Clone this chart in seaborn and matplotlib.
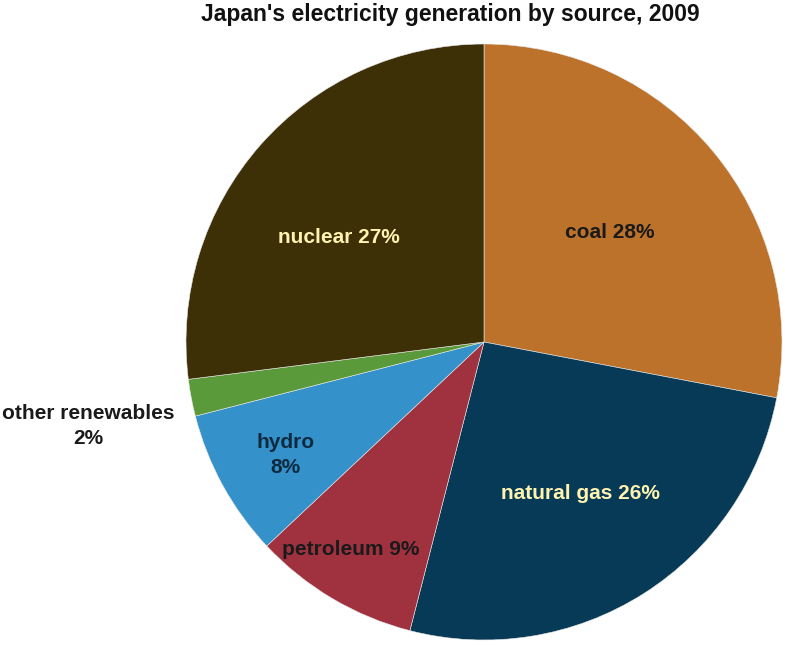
import matplotlib
matplotlib.use("Agg")
import matplotlib.pyplot as plt
import seaborn as sns

sns.set_theme(style="white")
plt.rcParams['font.family'] = ['Liberation Sans', 'DejaVu Sans']

sources = ["coal", "natural gas", "petroleum", "hydro", "other renewables", "nuclear"]
shares = [28, 26, 9, 8, 2, 27]
labels = ["coal 28%", "natural gas 26%", "petroleum 9%", "hydro\n8%", "other renewables\n2%", "nuclear 27%"]

colors = ["#BD722C", "#063A56", "#A0313F", "#3591C9", "#5A9A3A", "#3E3006"]
text_colors = ["#1a1a1a", "#FFF3B0", "#1a1a1a", "#0d2a40", "#1a1a1a", "#FFF3B0"]
label_pos = [(0.423, 0.369), (0.322, -0.51), (-0.446, -0.695), (-0.665, -0.379), (-1.329, -0.282), (-0.487, 0.349)]

W, H = 785, 645
fig = plt.figure(figsize=(W / 100, H / 100), dpi=100)
cx, cy, r = 484, 342, 298
ax = fig.add_axes([(cx - r) / W, (H - cy - r) / H, 2 * r / W, 2 * r / H])
ax.pie(shares, colors=colors, startangle=90, counterclock=False,
       wedgeprops=dict(linewidth=0.4, edgecolor="#e8e8e8"), radius=1)
ax.set_xlim(-1, 1)
ax.set_ylim(-1, 1)
ax.set_aspect("equal")
ax.axis("off")

for lab, (x, y), tc in zip(labels, label_pos, text_colors):
    ax.text(x, y, lab, ha="center", va="center", fontsize=15, fontweight="bold",
            color=tc, linespacing=1.35, clip_on=False)

fig.text(450 / W, 1 - 15 / H, "Japan's electricity generation by source, 2009",
         ha="center", va="center", fontsize=16.5, fontweight="bold", color="#111111")

fig.savefig("out.png", dpi=100)
